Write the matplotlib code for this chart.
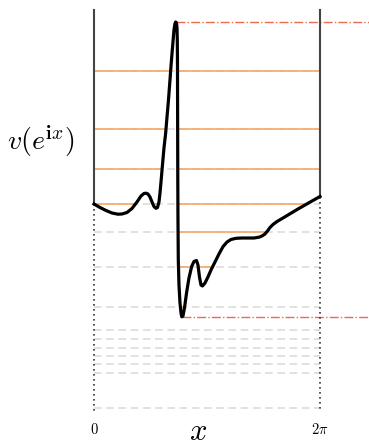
import numpy as np
import matplotlib
matplotlib.use("Agg")
import matplotlib.pyplot as plt
from matplotlib.patches import Polygon

plt.rcParams["mathtext.fontset"] = "cm"

# Sampled values of v(e^{ix}) on [0, 2*pi]
x_vals = [0.000, 0.167, 0.334, 0.500, 0.667, 0.778, 0.917, 1.056, 1.195, 1.307,
          1.390, 1.446, 1.501, 1.557, 1.613, 1.668, 1.724, 1.765, 1.807, 1.835,
          1.863, 1.904, 1.946, 1.993, 2.030, 2.071, 2.113, 2.141, 2.182, 2.224,
          2.252, 2.271, 2.294, 2.308, 2.316, 2.321, 2.324, 2.327, 2.330, 2.335,
          2.344, 2.363, 2.391, 2.419, 2.441, 2.474, 2.516, 2.577, 2.641, 2.716,
          2.780, 2.850, 2.891, 2.933, 2.975, 3.016, 3.086, 3.169, 3.253, 3.364,
          3.475, 3.586, 3.698, 3.809, 3.948, 4.115, 4.282, 4.448, 4.587, 4.671,
          4.754, 4.824, 4.893, 4.977, 5.088, 5.255, 5.449, 5.644, 5.838, 6.033,
          6.283]
v_vals = [0.000, -0.035, -0.065, -0.090, -0.102, -0.100, -0.085, -0.045, 0.020, 0.080,
          0.105, 0.108, 0.100, 0.070, 0.020, -0.025, -0.043, -0.035, 0.020, 0.110,
          0.220, 0.390, 0.560, 0.710, 0.870, 1.040, 1.240, 1.380, 1.560, 1.740,
          1.805, 1.820, 1.810, 1.760, 1.640, 1.440, 1.040, 0.640, 0.240, -0.160,
          -0.560, -0.810, -0.990, -1.090, -1.128, -1.120, -1.040, -0.880, -0.740, -0.625,
          -0.575, -0.565, -0.610, -0.730, -0.810, -0.820, -0.790, -0.730, -0.660, -0.580,
          -0.500, -0.427, -0.380, -0.355, -0.343, -0.340, -0.340, -0.340, -0.332, -0.320,
          -0.300, -0.270, -0.235, -0.205, -0.175, -0.140, -0.098, -0.056, -0.016, 0.024,
          0.075]

# Horizontal level lines
levels = [1.33, 0.75, 0.35, 0.00, -0.28, -0.63, -1.03,
          -1.26, -1.35, -1.44, -1.52, -1.60, -1.69, -2.04]

tick_positions = [0.0, 2 * np.pi]
tick_labels = ["$0$", r"$2\pi$"]

x = np.array(x_vals)
v = np.array(v_vals)
x0, x1 = 0.0, 2 * np.pi
v_top, v_bottom = 1.94, -2.07

fig = plt.figure(figsize=(3.69, 4.45), dpi=100)
ax = fig.add_axes([0, 0, 1, 1])
ax.set_xlim(-2.613, 7.646)
ax.set_ylim(-2.41, 2.04)
ax.axis("off")

# Region above the graph: level segments inside it are drawn in orange
above = Polygon(np.column_stack([np.r_[x, x1, x0], np.r_[v, 5.0, 5.0]]),
                closed=True, transform=ax.transData, facecolor="none",
                edgecolor="none")
ax.add_patch(above)

for lv in levels:
    ax.plot([x0, x1], [lv, lv], color="#d9d9d9", lw=1.1,
            dashes=(5, 3), zorder=1)
    seg, = ax.plot([x0, x1], [lv, lv], color="#f5ac6a", lw=1.25,
                   solid_capstyle="butt", zorder=2)
    seg.set_clip_path(above)

# Maximum and minimum markers
i_max = int(np.argmax(v))
i_min = int(np.argmin(v))
ax.plot([x[i_max], 7.646], [v[i_max], v[i_max]], color="#ee6a50",
        lw=1.0, ls="-.", zorder=2)
ax.plot([x[i_min], 7.646], [v[i_min], v[i_min]], color="#ee6a50",
        lw=1.0, ls="-.", zorder=2)

# Boundary verticals: solid above the graph, dotted below it
for xe, ve in [(x0, v[0]), (x1, v[-1])]:
    ax.plot([xe, xe], [v_top, ve], color="#444444", lw=1.5, zorder=3)
    ax.plot([xe, xe], [ve, v_bottom], color="#333333", lw=1.2,
            ls=(0, (1, 2)), zorder=3)

ax.plot(x, v, color="black", lw=2.3, zorder=4, solid_joinstyle="round")

for tp, tl in zip(tick_positions, tick_labels):
    ax.text(tp, -2.26, tl, ha="center", va="center", fontsize=10.5)

ax.text(2.89, -2.28, "$x$", ha="center", va="center", fontsize=22)
ax.text(-1.474, 0.63, r"$v(e^{\mathbf{i}x})$", ha="center", va="center",
        fontsize=20)

fig.savefig("out.png", dpi=100)
